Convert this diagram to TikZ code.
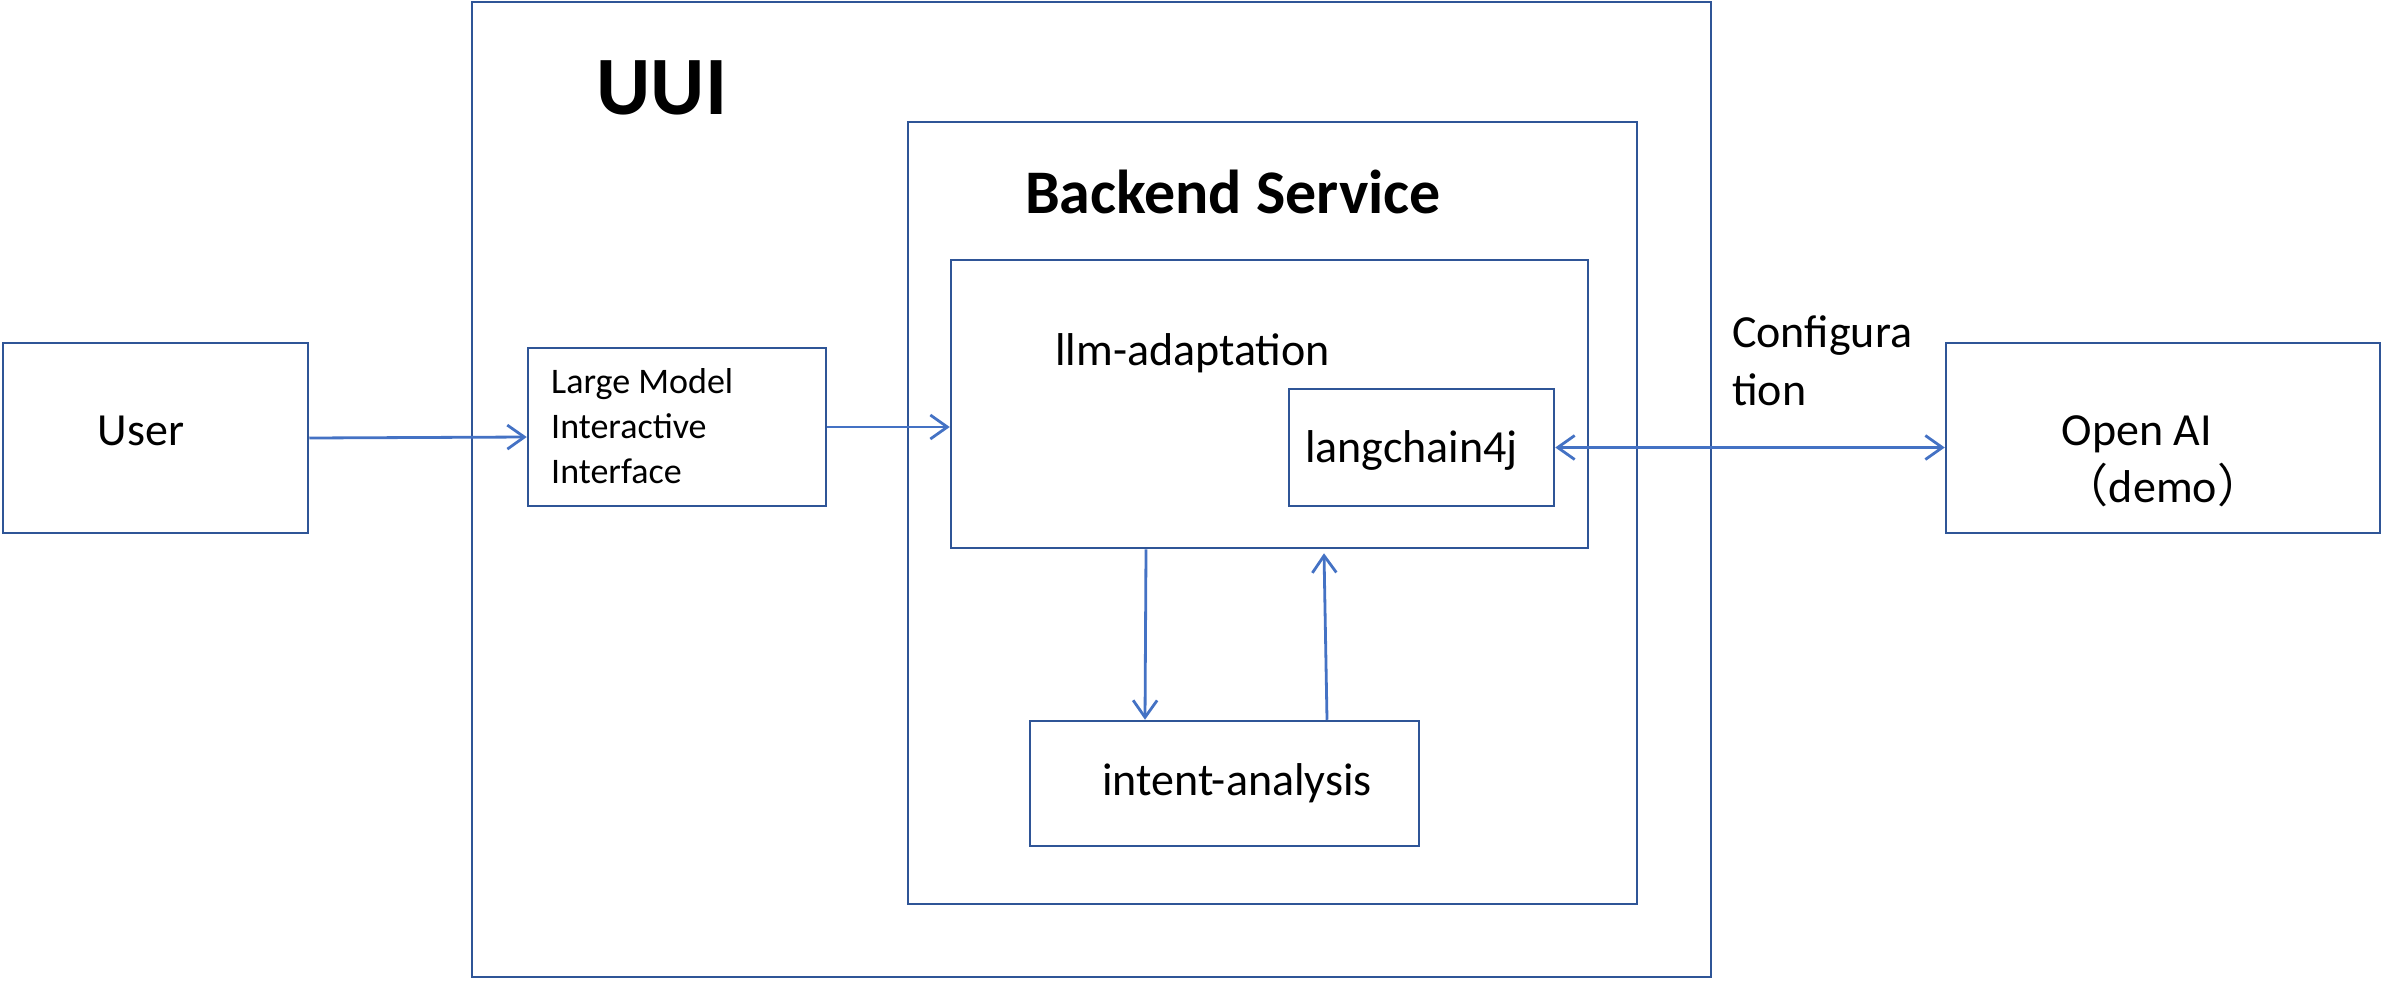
\documentclass[tikz,border=0pt]{standalone}
\usepackage{fontspec}
\setmainfont{Carlito}
\newfontfamily\cjk{Noto Sans CJK SC}
\usetikzlibrary{arrows.meta}
\definecolor{boxblue}{HTML}{2F5597}
\definecolor{arrblue}{HTML}{4472C4}
\begin{document}
\begin{tikzpicture}[x=1pt,y=-1pt,
  frame/.style={draw=boxblue, line width=2.5pt, inner sep=0pt, fill=none},
  conn/.style={draw=arrblue, line width=2.8pt, -{Straight Barb[length=17pt,width=24pt]}},
  bconn/.style={draw=arrblue, line width=2.8pt, {Straight Barb[length=17pt,width=24pt]}-{Straight Barb[length=17pt,width=24pt]}},
  txt/.style={inner sep=0pt, anchor=base, font=\fontsize{46}{56}\selectfont},
  smalltxt/.style={inner sep=0pt, anchor=base west, font=\fontsize{36}{45}\selectfont},
]
\useasboundingbox (0,0) rectangle (2382,980);

% boxes
\node[frame, minimum width=305pt, minimum height=190pt] (user) at (155.5,438) {};
\node[frame, minimum width=1239pt, minimum height=975pt] (uui) at (1091.5,489.5) {};
\node[frame, minimum width=298pt, minimum height=158pt] (lmi) at (677,427) {};
\node[frame, minimum width=729pt, minimum height=782pt] (backend) at (1272.5,513) {};
\node[frame, minimum width=637pt, minimum height=288pt] (llm) at (1269.5,404) {};
\node[frame, minimum width=265pt, minimum height=117pt] (lc) at (1421.5,447.5) {};
\node[frame, minimum width=389pt, minimum height=125pt] (intent) at (1224.5,783.5) {};
\node[frame, minimum width=434pt, minimum height=190pt] (openai) at (2163,438) {};

% texts
\node[txt] (usertxt) at (141,445) {User};
\node[txt, font=\fontsize{83}{99}\selectfont\bfseries] (uuitxt) at (662,114) {UUI};
\node[txt, font=\fontsize{62}{74}\selectfont\bfseries] (backendtxt) at (1233,213) {Backend Service};
\node[smalltxt] (lmi1) at (551,393) {Large Model};
\node[smalltxt] (lmi2) at (551,438) {Interactive};
\node[smalltxt] (lmi3) at (551,483) {Interface};
\node[txt] (llmtxt) at (1192.5,365) {llm-adaptation};
\node[txt] (lctxt) at (1411.5,462) {langchain4j};
\node[txt] (intenttxt) at (1237,795) {intent-analysis};
\node[txt] (oaitxt) at (2137,445) {Open AI};
\node[txt] (demotxt) at (2163,502) {{\cjk （}demo{\cjk ）}};
\node[txt, anchor=base west] (conf1) at (1732,347) {Configura};
\node[txt, anchor=base west] (conf2) at (1732,405) {tion};

% connectors
\draw[conn] (user.east) -- (lmi.west |- 0,437);
\draw[conn] (lmi.east) -- (lmi.east -| llm.west);
\draw[conn] (llm.south -| 1146,0) -- (intent.north -| 1145,0);
\draw[conn] (intent.north -| 1327,0) -- ([yshift=-4pt]llm.south -| 1324,0);
\draw[bconn] (lc.east) -- (lc.east -| openai.west);
\end{tikzpicture}
\end{document}
